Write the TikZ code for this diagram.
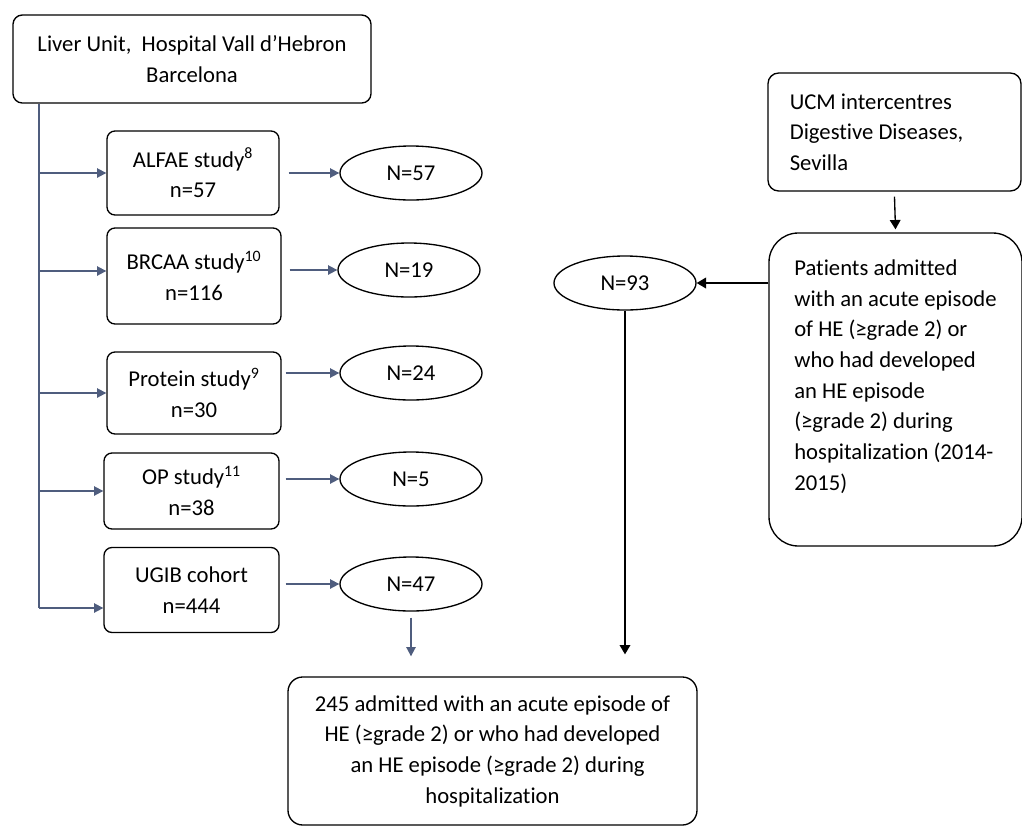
\documentclass[tikz,border=0pt]{standalone}
\usepackage{fontspec}
\setmainfont{Carlito}[Ligatures=NoCommon]
\usetikzlibrary{arrows.meta, positioning, calc, shapes.geometric}
\definecolor{slateline}{HTML}{4F5D7E}
\newcommand{\pxu}{0.75pt}

\begin{document}
\begin{tikzpicture}[
      x=0.75pt, y=-0.75pt,
      every node/.style={font=\fontsize{17}{23}\selectfont},
      studybox/.style={draw, line width=1pt, rounded corners=6pt,
        align=center, inner sep=0pt},
      countoval/.style={draw, ellipse, line width=1pt, inner sep=0pt,
        minimum width=142*\pxu, minimum height=54*\pxu},
      slatearrow/.style={-{Triangle[length=7pt,width=7pt]}, color=slateline,
        line width=1.3pt},
      blackarrow/.style={-{Triangle[length=7pt,width=8pt]}, line width=1pt}
    ]
      \useasboundingbox (0,0) rectangle (1022,826);
      % Barcelona branch
      \node[studybox, rounded corners=7pt, minimum width=358*\pxu,
        minimum height=88*\pxu] (liver) at (192,59)
        {Liver Unit,~ Hospital Vall d’Hebron\\Barcelona};
      \node[studybox, minimum width=172*\pxu, minimum height=84*\pxu]
        (alfae) at (193,173) {ALFAE study\textsuperscript{8}\\n=57};
      \node[studybox, minimum width=174*\pxu, minimum height=96*\pxu]
        (brcaa) at (194,276) {BRCAA study\textsuperscript{10}\\n=116};
      \node[studybox, minimum width=174*\pxu, minimum height=82*\pxu]
        (protein) at (194,393) {Protein study\textsuperscript{9}\\n=30};
      \node[studybox, minimum width=175*\pxu, minimum height=76*\pxu]
        (op) at (191.5,491) {OP study\textsuperscript{11}\\n=38};
      \node[studybox, minimum width=175*\pxu, minimum height=85*\pxu]
        (ugib) at (191.5,590) {UGIB cohort\\n=444};
      \node[countoval] (n57) at (411,173) {N=57};
      \node[countoval] (n19) at (409,270) {N=19};
      \node[countoval] (n24) at (411,373) {N=24};
      \node[countoval] (n5) at (411,479) {N=5};
      \node[countoval] (n47) at (411,584) {N=47};
      % Sevilla branch
      \node[studybox, rounded corners=8pt, minimum width=253*\pxu,
        minimum height=118*\pxu, text width=157pt, align=flush left]
        (ucm) at (894.5,132)
        {UCM intercentres\\Digestive Diseases,\\Sevilla};
      \node[studybox, rounded corners=22pt, minimum width=253*\pxu,
        minimum height=313*\pxu, align=left, text depth=22pt]
        (patients) at (895.5,389.5)
        {Patients admitted\\with an acute episode\\of HE (≥grade 2) or\\
         who had developed\\an HE episode\\(≥grade 2) during\\
         hospitalization (2014-\\2015)};
      \node[countoval] (n93) at (625,283) {N=93};
      % pooled cohort
      \node[studybox, rounded corners=11pt, minimum width=409*\pxu,
        minimum height=148*\pxu] (pooled) at (492.5,751)
        {245 admitted with an acute episode of\\
         HE (≥grade 2) or who had developed\\
         ~~an HE episode (≥grade 2) during\\hospitalization};
      % connectors
      \coordinate (trunkend) at (39,608);
      \draw[slateline, line width=1.3pt] (liver.south -| trunkend) -- (trunkend);
      \draw[slatearrow] (trunkend |- alfae.west) -- (alfae.west);
      \draw[slatearrow] ($(trunkend |- brcaa.west)+(0,-5)$)
        -- ($(brcaa.west)+(0,-5)$);
      \draw[slatearrow] (trunkend |- protein.west) -- (protein.west);
      \draw[slatearrow] (trunkend |- op.west) -- (op.west);
      \draw[slatearrow] (trunkend) -- (trunkend -| ugib.west);
      \draw[slatearrow] ($(alfae.east |- n57)+(9,0)$) -- (n57.west);
      \draw[slatearrow] ($(brcaa.east |- n19)+(8,0)$) -- (n19.west);
      \draw[slatearrow] ($(protein.east |- n24)+(4,0)$) -- (n24.west);
      \draw[slatearrow] ($(op.east |- n5)+(6,0)$) -- (n5.west);
      \draw[slatearrow] ($(ugib.east |- n47)+(6,0)$) -- (n47.west);
      \draw[slatearrow] ($(n47.south)+(0,6)$)
        -- ($(n47.south |- pooled.north)+(0,-20)$);
      \draw[blackarrow] ($(ucm.south)+(0,5)$) -- ($(patients.north)+(0,-3)$);
      \draw[blackarrow] (patients.west |- n93) -- (n93.east);
      \draw[blackarrow] (n93.south)
        -- ($(n93.south |- pooled.north)+(0,-22)$);
    \end{tikzpicture}
\end{document}
